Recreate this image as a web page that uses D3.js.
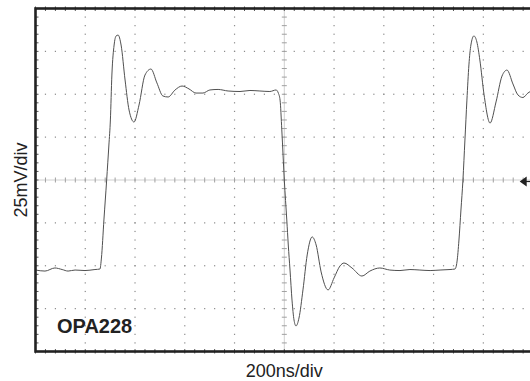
<!DOCTYPE html>
<html>
<head>
<meta charset="utf-8">
<script src="https://cdn.jsdelivr.net/npm/d3@7"></script>
<style>
  body { margin: 0; background: #fff; }
  svg { display: block; }
</style>
</head>
<body>
<div id="vis"></div>
<script>
// Frame size and plot area (scope screen)
const FRAME_WIDTH = 530;
const FRAME_HEIGHT = 381;
const PLOT = {left: 35.5, right: 533.1, top: 8.5, bottom: 351.5};

// Waveform samples: time (ns) and output (mV)
const TIME_NS = [0, 38, 78, 107, 131, 159, 199, 239, 259, 265, 275, 286, 295, 301, 307, 316, 324, 332,
  344, 360, 376, 396, 416, 440, 464, 488, 512, 533, 561, 589, 617, 645, 673, 701, 734, 774, 822,
  862, 902, 942, 967, 976, 983, 990, 1000, 1010, 1016, 1023, 1031, 1039, 1047, 1059, 1075, 1092,
  1112, 1128, 1148, 1176, 1200, 1224, 1240, 1272, 1312, 1344, 1384, 1424, 1465, 1505, 1545, 1586,
  1626, 1666, 1686, 1694, 1702, 1710, 1718, 1726, 1734, 1742, 1750, 1762, 1774, 1786, 1803, 1827,
  1851, 1875, 1895, 1919, 1939, 1959, 1979, 2000];
const VOLT_MV = [-52.5, -53.1, -51.3, -52.2, -53.1, -52.5, -52.8, -52.2, -51.9, -45.5, -23.3, 0, 20.4, 35.0, 61.2, 78.7, 84.0, 84.5,
  78.7, 58.3, 40.8, 33.8, 43.7, 61.2, 64.7, 56.6, 49.0, 48.4, 52.5, 54.8, 53.1, 50.7, 50.7, 52.5, 52.8, 51.9, 51.6,
  52.2, 51.9, 51.6, 52.5, 50.7, 46.6, 29.2, 0, -23.3, -37.9, -52.5, -70.0, -81.6, -85.1, -80.5, -64.1, -43.7,
  -33.2, -37.9, -53.6, -64.1, -57.1, -50.1, -48.4, -51.3, -56.0, -53.1, -51.3, -52.5, -52.8, -52.2, -52.5, -52.8,
  -52.5, -52.2, -51.9, -47.8, -35.0, -17.5, 0, 23.3, 46.6, 67.1, 78.7, 84.0, 80.5, 70.0, 49.6, 33.2,
  45.5, 60.6, 64.1, 56.0, 49.6, 48.1, 50.7, 52.5];

// Screen divisions: 200 ns/div horizontally, 25 mV/div vertically
const TIME_DIVS = [0, 200, 400, 600, 800, 1000, 1200, 1400, 1600, 1800, 2000];
const VOLT_DIVS = [-100, -75, -50, -25, 0, 25, 50, 75, 100];

const X_LABEL = "200ns/div";
const Y_LABEL = "25mV/div";
const PART_LABEL = "OPA228";

const FRAME = d3.select("#vis")
  .append("svg")
    .attr("width", FRAME_WIDTH)
    .attr("height", FRAME_HEIGHT);

const X_SCALE = d3.scaleLinear().domain([0, 2000]).range([PLOT.left, PLOT.right]);
const Y_SCALE = d3.scaleLinear().domain([-100, 100]).range([PLOT.bottom, PLOT.top]);

// minor steps are 1/5 of a division
const T_MINOR = d3.range(0, 2000 + 1, 40);
const V_MINOR = d3.range(-100, 100 + 1, 5);

const grid = FRAME.append("g").attr("fill", "#8a8a8a");

// Dotted graticule lines (one dot per minor step)
TIME_DIVS.slice(1, -1).filter((t) => t !== 1000).forEach((t) => {
  grid.selectAll(null)
    .data(V_MINOR)
    .enter()
    .append("rect")
      .attr("x", X_SCALE(t) - 0.6)
      .attr("y", (v) => Y_SCALE(v) - 0.6)
      .attr("width", 1.2)
      .attr("height", 1.2);
});
VOLT_DIVS.slice(1, -1).filter((v) => v !== 0).forEach((v) => {
  grid.selectAll(null)
    .data(T_MINOR)
    .enter()
    .append("rect")
      .attr("x", (t) => X_SCALE(t) - 0.6)
      .attr("y", Y_SCALE(v) - 0.6)
      .attr("width", 1.2)
      .attr("height", 1.2);
});

// Center crosshair: dense dotted line with minor ticks
const cross = FRAME.append("g")
  .attr("stroke", "#a0a0a0")
  .attr("stroke-width", 1);

cross.append("line")
  .attr("x1", PLOT.left).attr("x2", PLOT.right)
  .attr("y1", Y_SCALE(0)).attr("y2", Y_SCALE(0))
  .attr("stroke-dasharray", "1,1");
cross.append("line")
  .attr("x1", X_SCALE(1000)).attr("x2", X_SCALE(1000))
  .attr("y1", PLOT.top).attr("y2", PLOT.bottom)
  .attr("stroke-dasharray", "1,1");

cross.selectAll(".xtick")
  .data(T_MINOR)
  .enter()
  .append("line")
    .attr("x1", (t) => X_SCALE(t)).attr("x2", (t) => X_SCALE(t))
    .attr("y1", Y_SCALE(0) - 2.5).attr("y2", Y_SCALE(0) + 2.5);
cross.selectAll(".ytick")
  .data(V_MINOR)
  .enter()
  .append("line")
    .attr("x1", X_SCALE(1000) - 2.5).attr("x2", X_SCALE(1000) + 2.5)
    .attr("y1", (v) => Y_SCALE(v)).attr("y2", (v) => Y_SCALE(v));

// Minor ticks along the border
const edge = FRAME.append("g").attr("stroke", "#555").attr("stroke-width", 1);
edge.selectAll(".top")
  .data(T_MINOR)
  .enter()
  .append("line")
    .attr("x1", (t) => X_SCALE(t)).attr("x2", (t) => X_SCALE(t))
    .attr("y1", PLOT.top - 2).attr("y2", PLOT.top + 2.5);
edge.selectAll(".bottom")
  .data(T_MINOR)
  .enter()
  .append("line")
    .attr("x1", (t) => X_SCALE(t)).attr("x2", (t) => X_SCALE(t))
    .attr("y1", PLOT.bottom - 2.5).attr("y2", PLOT.bottom + 2);
edge.selectAll(".left")
  .data(V_MINOR)
  .enter()
  .append("line")
    .attr("x1", PLOT.left).attr("x2", PLOT.left + 3)
    .attr("y1", (v) => Y_SCALE(v)).attr("y2", (v) => Y_SCALE(v));

// Waveform
const wave = TIME_NS.map((t, i) => ({t: t, v: VOLT_MV[i]}));

FRAME.append("path")
  .datum(wave)
  .attr("fill", "none")
  .attr("stroke", "#505050")
  .attr("stroke-width", 1)
  .attr("d", d3.line()
    .x((d) => X_SCALE(d.t))
    .y((d) => Y_SCALE(d.v))
    .curve(d3.curveMonotoneX));

// Ground marker at right edge
FRAME.append("path")
  .attr("d", "M" + (X_SCALE(1950) - 1) + "," + (Y_SCALE(0) + 1.5)
    + "l7,-5 l0,10 z")
  .attr("fill", "#222");
FRAME.append("line")
  .attr("x1", X_SCALE(1950) + 5).attr("x2", X_SCALE(2000))
  .attr("y1", Y_SCALE(0) + 1.5).attr("y2", Y_SCALE(0) + 1.5)
  .attr("stroke", "#222")
  .attr("stroke-width", 1.2);

// Screen border
FRAME.append("rect")
  .attr("x", PLOT.left)
  .attr("y", PLOT.top)
  .attr("width", PLOT.right - PLOT.left)
  .attr("height", PLOT.bottom - PLOT.top)
  .attr("fill", "none")
  .attr("stroke", "#222")
  .attr("stroke-width", 2.6);

// Labels
FRAME.append("text")
  .attr("x", X_SCALE(1000))
  .attr("y", 377)
  .attr("text-anchor", "middle")
  .attr("font-family", "Liberation Sans, Arial, sans-serif")
  .style("font-size", "18px")
  .attr("fill", "#222")
  .text(X_LABEL);

FRAME.append("text")
  .attr("transform", "translate(27," + Y_SCALE(0) + ")rotate(-90)")
  .attr("text-anchor", "middle")
  .attr("font-family", "Liberation Sans, Arial, sans-serif")
  .style("font-size", "18px")
  .attr("fill", "#222")
  .text(Y_LABEL);

FRAME.append("text")
  .attr("x", 57)
  .attr("y", 333)
  .attr("font-family", "Liberation Sans, Arial, sans-serif")
  .attr("font-weight", "700")
  .style("font-size", "20px")
  .attr("fill", "#222")
  .text(PART_LABEL);
</script>
</body>
</html>
